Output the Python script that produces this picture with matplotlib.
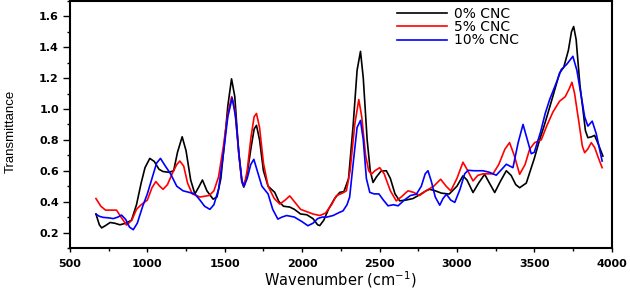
import matplotlib
matplotlib.use("Agg")
import matplotlib.pyplot as plt
from matplotlib.ticker import MultipleLocator

# 0% CNC (black)
wn_0 = [668, 690, 705, 730, 760, 790, 823, 860, 898, 930, 960, 985, 1016, 1045, 1075,
        1101, 1140, 1170, 1195, 1225, 1250, 1280, 1307, 1330, 1356, 1385, 1425, 1450,
        1475, 1500, 1520, 1544, 1565, 1590, 1610, 1623, 1645, 1670, 1690, 1705, 1725,
        1750, 1780, 1823, 1850, 1880, 1920, 1950, 1990, 2030, 2070, 2100, 2114, 2140,
        2170, 2210, 2243, 2270, 2300, 2330, 2355, 2377, 2395, 2420, 2440, 2458, 2480,
        2510, 2544, 2570, 2600, 2630, 2670, 2716, 2760, 2800, 2824, 2860, 2900, 2950,
        3000, 3039, 3065, 3104, 3140, 3179, 3210, 3244, 3280, 3319, 3350, 3380, 3405,
        3448, 3470, 3500, 3534, 3560, 3590, 3620, 3663, 3690, 3720, 3740, 3754, 3770,
        3795, 3814, 3830, 3846, 3870, 3889, 3910, 3943]
t_0 = [0.32, 0.25, 0.23, 0.245, 0.265, 0.26, 0.25, 0.26, 0.28, 0.38, 0.52, 0.62, 0.68,
       0.66, 0.61, 0.595, 0.59, 0.60, 0.72, 0.82, 0.73, 0.54, 0.45, 0.49, 0.54, 0.47,
       0.416, 0.43, 0.55, 0.80, 1.02, 1.195, 1.08, 0.72, 0.53, 0.494, 0.58, 0.75, 0.87,
       0.894, 0.80, 0.60, 0.50, 0.46, 0.40, 0.37, 0.365, 0.35, 0.32, 0.315, 0.29, 0.25,
       0.245, 0.28, 0.35, 0.42, 0.46, 0.465, 0.55, 0.90, 1.25, 1.373, 1.20, 0.80, 0.60,
       0.524, 0.56, 0.598, 0.60, 0.55, 0.45, 0.405, 0.41, 0.42, 0.445, 0.47, 0.48, 0.47,
       0.455, 0.449, 0.50, 0.567, 0.54, 0.459, 0.52, 0.577, 0.52, 0.459, 0.53, 0.60,
       0.57, 0.51, 0.49, 0.52, 0.588, 0.68, 0.80, 0.88, 0.98, 1.083, 1.233, 1.27, 1.38,
       1.50, 1.534, 1.45, 1.15, 0.997, 0.86, 0.814, 0.82, 0.829, 0.78, 0.695]

# 5% CNC (red)
wn_5 = [668, 700, 730, 760, 801, 830, 866, 900, 930, 960, 1000, 1030, 1055, 1080, 1102,
        1130, 1160, 1190, 1210, 1235, 1260, 1290, 1340, 1400, 1430, 1460, 1490, 1520,
        1545, 1565, 1590, 1610, 1625, 1645, 1670, 1690, 1705, 1725, 1750, 1780, 1820,
        1856, 1890, 1920, 1950, 1990, 2030, 2070, 2114, 2150, 2190, 2221, 2260, 2286,
        2310, 2340, 2366, 2385, 2410, 2430, 2447, 2470, 2501, 2530, 2570, 2608, 2640,
        2684, 2720, 2759, 2800, 2850, 2895, 2930, 2960, 3000, 3039, 3070, 3104, 3135,
        3168, 3200, 3233, 3270, 3310, 3340, 3370, 3405, 3440, 3470, 3502, 3545, 3580,
        3620, 3663, 3700, 3725, 3743, 3760, 3790, 3810, 3825, 3845, 3868, 3890, 3915,
        3938]
t_5 = [0.42, 0.37, 0.345, 0.345, 0.345, 0.30, 0.248, 0.28, 0.35, 0.38, 0.41, 0.49, 0.53,
       0.50, 0.48, 0.51, 0.58, 0.64, 0.663, 0.63, 0.52, 0.45, 0.43, 0.44, 0.47, 0.56,
       0.75, 0.97, 1.08, 1.00, 0.72, 0.54, 0.50, 0.60, 0.82, 0.95, 0.971, 0.88, 0.65,
       0.50, 0.42, 0.384, 0.41, 0.437, 0.40, 0.35, 0.335, 0.32, 0.31, 0.325, 0.38, 0.438,
       0.455, 0.47, 0.60, 0.90, 1.061, 0.95, 0.70, 0.60, 0.577, 0.60, 0.62, 0.58, 0.47,
       0.405, 0.43, 0.47, 0.46, 0.44, 0.47, 0.50, 0.545, 0.50, 0.47, 0.55, 0.655, 0.60,
       0.534, 0.57, 0.58, 0.58, 0.58, 0.64, 0.74, 0.782, 0.70, 0.577, 0.64, 0.74, 0.782,
       0.80, 0.89, 0.98, 1.05, 1.08, 1.13, 1.173, 1.10, 0.90, 0.76, 0.717, 0.74, 0.782,
       0.75, 0.68, 0.62]

# 10% CNC (blue)
wn_10 = [668, 690, 715, 750, 780, 810, 833, 860, 885, 909, 935, 970, 1000, 1030, 1060,
         1085, 1110, 1150, 1190, 1231, 1270, 1307, 1340, 1370, 1404, 1430, 1460, 1490,
         1520, 1548, 1570, 1595, 1612, 1625, 1645, 1668, 1688, 1710, 1740, 1780, 1810,
         1843, 1870, 1900, 1950, 2000, 2037, 2070, 2100, 2130, 2160, 2200, 2240, 2264,
         2290, 2307, 2330, 2355, 2377, 2395, 2415, 2437, 2465, 2496, 2525, 2555, 2590,
         2620, 2660, 2700, 2738, 2770, 2795, 2813, 2835, 2860, 2889, 2910, 2932, 2960,
         2986, 3020, 3050, 3072, 3110, 3168, 3210, 3254, 3290, 3319, 3362, 3395, 3427,
         3455, 3480, 3500, 3540, 3570, 3599, 3642, 3674, 3710, 3749, 3775, 3803, 3825,
         3846, 3874, 3900, 3938]
t_10 = [0.319, 0.305, 0.298, 0.295, 0.29, 0.30, 0.313, 0.285, 0.235, 0.218, 0.26, 0.37,
        0.45, 0.55, 0.65, 0.68, 0.64, 0.58, 0.50, 0.47, 0.46, 0.45, 0.41, 0.37, 0.35,
        0.38, 0.48, 0.70, 0.95, 1.072, 0.95, 0.68, 0.53, 0.50, 0.55, 0.64, 0.674, 0.60,
        0.50, 0.45, 0.35, 0.287, 0.30, 0.31, 0.30, 0.27, 0.244, 0.26, 0.29, 0.30, 0.30,
        0.31, 0.33, 0.34, 0.38, 0.43, 0.65, 0.88, 0.926, 0.80, 0.55, 0.46, 0.45, 0.45,
        0.41, 0.373, 0.38, 0.373, 0.41, 0.44, 0.448, 0.50, 0.58, 0.60, 0.53, 0.43, 0.377,
        0.42, 0.448, 0.41, 0.395, 0.48, 0.58, 0.603, 0.60, 0.60, 0.59, 0.571, 0.61, 0.642,
        0.62, 0.78, 0.90, 0.80, 0.71, 0.72, 0.85, 0.97, 1.061, 1.17, 1.255, 1.29, 1.341,
        1.25, 1.083, 0.95, 0.889, 0.921, 0.84, 0.663]

labels = ["0% CNC", "5% CNC", "10% CNC"]
colors = ["black", "#ff0000", "#0000ff"]

fig = plt.figure(figsize=(6.3, 2.89), dpi=100)
ax = fig.add_axes([0.111, 0.142, 0.86, 0.855])

for wn, t, lab, c in zip([wn_0, wn_5, wn_10], [t_0, t_5, t_10], labels, colors):
    ax.plot(wn, t, color=c, lw=1.2, label=lab)

ax.set_xlim(500, 4000)
ax.set_ylim(0.1, 1.7)
ax.xaxis.set_major_locator(MultipleLocator(500))
ax.xaxis.set_minor_locator(MultipleLocator(250))
ax.yaxis.set_minor_locator(MultipleLocator(0.1))
ax.set_yticks([0.2, 0.4, 0.6, 0.8, 1.0, 1.2, 1.4, 1.6])

for s in ax.spines.values():
    s.set_linewidth(1.5)
ax.tick_params(axis="y", which="major", direction="out", length=5, width=1, pad=3)
ax.tick_params(axis="y", which="minor", direction="out", length=2.5, width=1)
ax.tick_params(axis="x", which="major", direction="out", length=3, width=1, pad=5)
ax.tick_params(axis="x", which="minor", direction="out", length=2, width=1)
for lbl in ax.get_xticklabels() + ax.get_yticklabels():
    lbl.set_fontfamily("DejaVu Sans")
    lbl.set_fontweight("bold")
    lbl.set_fontsize(8)

ax.set_xlabel("Wavenumber (cm$^{-1}$)", fontsize=10.5, family="DejaVu Sans", labelpad=0)
ax.set_ylabel("Transmittance", fontsize=9.5,
              family=["Liberation Sans Narrow", "Liberation Sans"])
ax.yaxis.set_label_coords(-0.098, 0.47)

ax.legend(loc="upper left", bbox_to_anchor=(0.585, 1.015), frameon=False,
          prop={"family": "DejaVu Sans", "size": 10}, handlelength=3.6,
          handletextpad=0.5, labelspacing=-0.05, borderpad=0.2)

fig.savefig("out.png", dpi=100)
